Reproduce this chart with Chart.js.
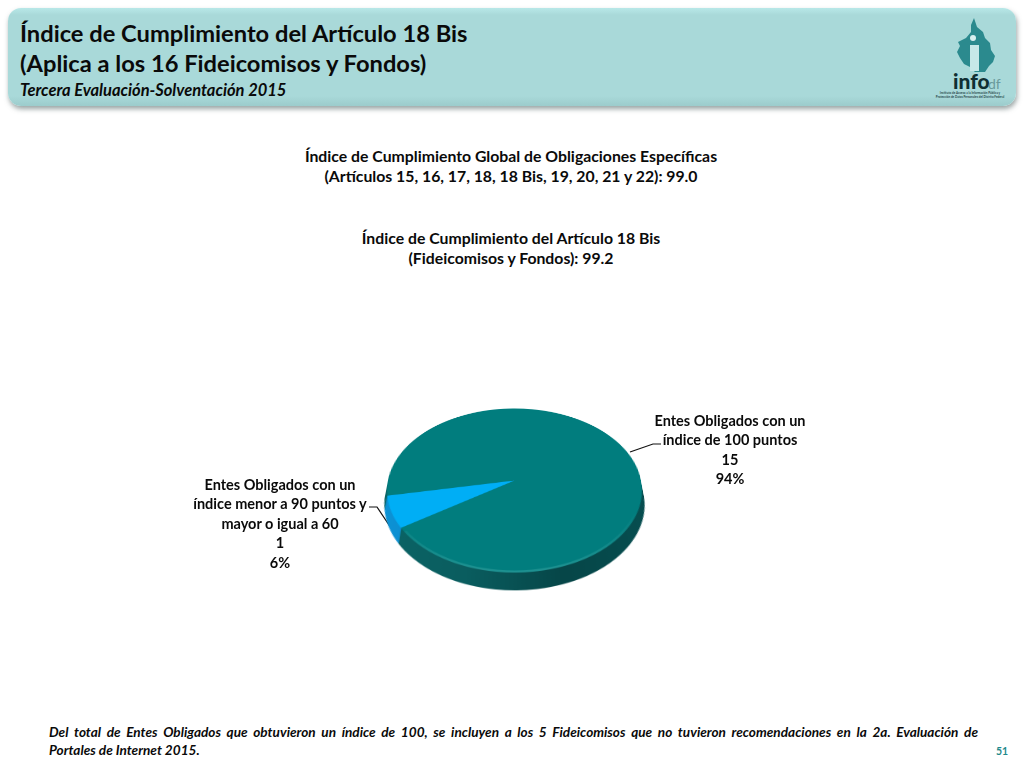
<!DOCTYPE html>
<html lang="es">
<head>
<meta charset="utf-8">
<title>Índice de Cumplimiento del Artículo 18 Bis</title>
<script src="https://cdn.jsdelivr.net/npm/chart.js@4/dist/chart.umd.js"></script>
<style>
html, body { margin: 0; padding: 0; background: #fff; }
body { width: 1024px; height: 768px; position: relative; overflow: hidden; font-family: Lato, sans-serif; color: #0a0a0a; }
#header {
    position: absolute; left: 8px; top: 8px; width: 1008px; height: 98px; border-radius: 13px;
    background: linear-gradient(#b8e8e8 0, #a9d9d9 7px, #a9d9d9 88px, #9ccccc 98px);
    box-shadow: 1px 3px 5px rgba(70, 90, 90, .55);
}
#header div { position: absolute; left: 12px; white-space: nowrap; font-weight: 700; }
.t1 { font-size: 23.7px; line-height: 30px; }
.t2 { font-size: 16.5px; line-height: 20px; font-style: italic; }
.mid { position: absolute; left: 211px; width: 600px; text-align: center; font-weight: 700; font-size: 15.8px; line-height: 20px; white-space: pre-line; }
.lbl { position: absolute; width: 260px; text-align: center; font-weight: 700; font-size: 14.5px; line-height: 19.4px; white-space: pre-line; }
#note { position: absolute; left: 49px; top: 723px; width: 929px; font-weight: 700; font-style: italic; font-size: 13.6px; line-height: 18px; }
#note div:first-child { text-align: justify; text-align-last: justify; }
#page { position: absolute; left: 996px; top: 745px; font-size: 10.5px; font-weight: 700; color: #1f8a8c; }
#pieBox { position: absolute; left: 387.5px; top: 353.5px; width: 253px; height: 300px; transform-origin: 126.5px 126.5px; transform: perspective(797px) rotateX(50.3deg); }
svg { position: absolute; left: 0; top: 0; }
</style>
</head>
<body>
<div id="header">
    <div class="t1" style="top:10px">Índice de Cumplimiento del Artículo 18 Bis</div>
    <div class="t1" style="top:40px">(Aplica a los 16 Fideicomisos y Fondos)</div>
    <div class="t2" style="top:72px">Tercera Evaluación-Solventación 2015</div>
</div>

<svg width="1024" height="768">
    <path d="M974 18 L977 27 L983 32 L985 38 L990 43 L991 50 L995 56 L993 62 L989 66 L985 72 L975 72 L970 67 L964 64 L960 58 L957 52 L960 46 L958 42 L966 38 L971 32 L971 25 Z" fill="#2b8a8e"/>
    <circle cx="973" cy="38" r="3" fill="#d8f0f0"/>
    <rect x="970" y="45" width="9" height="26" fill="#c6e8e8"/>
    <text x="953" y="89" font-family="Lato" font-weight="900" font-size="21" fill="#0f2f33">info</text>
    <text x="988" y="89" font-family="Lato" font-size="14" fill="#6a9a9c">df</text>
    <text x="970" y="94" text-anchor="middle" font-family="Lato" font-weight="700" font-size="3" fill="#29484a">Instituto de Acceso a la Información Pública y</text>
    <text x="970" y="98" text-anchor="middle" font-family="Lato" font-weight="700" font-size="3" fill="#29484a">Protección de Datos Personales del Distrito Federal</text>
    <polyline points="630,452 653,444 661,444" fill="none" stroke="#111" stroke-width="1.2"/>
    <polyline points="395,534 377,507 369,507" fill="none" stroke="#111" stroke-width="1.2"/>
</svg>

<div class="mid" style="top:146px" id="global"></div>
<div class="mid" style="top:228px" id="art"></div>

<div id="pieBox"><canvas id="pie" width="253" height="300"></canvas></div>

<div class="lbl" id="lbl0" style="left:600px;top:411px"></div>
<div class="lbl" id="lbl1" style="left:150px;top:475px"></div>

<div id="note">
    <div>Del total de Entes Obligados que obtuvieron un índice de 100, se incluyen a los 5 Fideicomisos que no tuvieron recomendaciones en la 2a. Evaluación de</div>
    <div>Portales de Internet 2015.</div>
</div>
<div id="page">51</div>

<script>
const categories = [
    "Entes Obligados con un\níndice de 100 puntos",
    "Entes Obligados con un\níndice menor a 90 puntos y\nmayor o igual a 60"
];
const counts = [15, 1];
const percents = ["94%", "6%"];
const globalIndex = 99.0;
const articleIndex = 99.2;

const topColors = ["#017d7e", "#00aef5"];
const sideColors = [
    ["#0b6466", "#0a5d5f", "#064648", "#074e50"],
    ["#0d93d6", "#0a84c4", "#0a84c4", "#0a84c4"]
];
const sideDepth = 21;

document.getElementById("global").textContent =
    "Índice de Cumplimiento Global de Obligaciones Específicas\n(Artículos 15, 16, 17, 18, 18 Bis, 19, 20, 21 y 22): " + globalIndex.toFixed(1);
document.getElementById("art").textContent =
    "Índice de Cumplimiento del Artículo 18 Bis\n(Fideicomisos y Fondos): " + articleIndex.toFixed(1);

categories.forEach((cat, i) => {
    document.getElementById("lbl" + i).textContent = cat + "\n" + counts[i] + "\n" + percents[i];
});

function sideGradient(ctx, arc, stops) {
    const g = ctx.createLinearGradient(arc.x - arc.outerRadius, 0, arc.x + arc.outerRadius, 0);
    stops.forEach((c, i) => g.addColorStop(i / (stops.length - 1), c));
    return g;
}

// thickness of the disc: the same arcs painted again, deepest first
const discSide = {
    id: "discSide",
    beforeDatasetsDraw(chart) {
        const ctx = chart.ctx;
        const arcs = chart.getDatasetMeta(0).data;
        for (let dy = sideDepth; dy > 0; dy--) {
            ctx.save();
            ctx.translate(0, dy);
            arcs.forEach((arc, i) => {
                const keep = arc.options.backgroundColor;
                arc.options.backgroundColor = sideGradient(ctx, arc, sideColors[i]);
                arc.draw(ctx);
                arc.options.backgroundColor = keep;
            });
            ctx.restore();
        }
    },
    afterDatasetsDraw(chart) {
        // pale bevel along the near rim
        const ctx = chart.ctx;
        const arc = chart.getDatasetMeta(0).data[0];
        const g = ctx.createLinearGradient(0, arc.y + arc.outerRadius * 0.35, 0, arc.y + arc.outerRadius);
        g.addColorStop(0, "rgba(120,210,205,0)");
        g.addColorStop(1, "rgba(120,210,205,.25)");
        ctx.save();
        ctx.strokeStyle = g;
        ctx.lineWidth = 2.5;
        ctx.beginPath();
        ctx.arc(arc.x, arc.y, arc.outerRadius - 1.25, 0.12, Math.PI * 0.8);
        ctx.stroke();
        ctx.restore();
    }
};

new Chart(document.getElementById("pie"), {
    type: "pie",
    data: {
        labels: categories,
        datasets: [{
            data: counts,
            backgroundColor: topColors,
            borderWidth: 0
        }]
    },
    options: {
        responsive: false,
        animation: false,
        devicePixelRatio: 2,
        rotation: 259.4,
        layout: { padding: { bottom: 47 } },
        plugins: { legend: { display: false }, tooltip: { enabled: false } }
    },
    plugins: [discSide]
});
</script>
</body>
</html>
